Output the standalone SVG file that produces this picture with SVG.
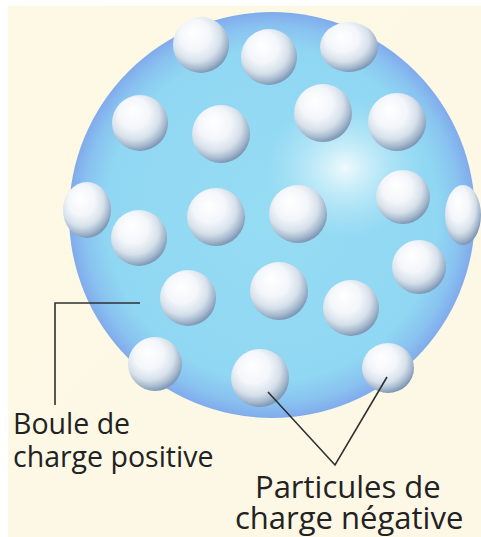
<svg xmlns="http://www.w3.org/2000/svg" width="481" height="537" viewBox="0 0 481 537">
  <style>
    .lbl { font-family: "Open Sans", "Noto Sans", "DejaVu Sans", sans-serif; font-weight: 500; fill: #222222; }
    .lead { fill: none; stroke: #2f3133; stroke-width: 1.6; stroke-linejoin: miter; }
    .e { fill: url(#ballShade); }
  </style>
  <defs>
    <!-- positive sphere: cyan body, periwinkle rim -->
    <radialGradient id="sphereBody" cx="50%" cy="50%" r="50%">
      <stop offset="0" stop-color="#96dcf3"/>
      <stop offset="0.82" stop-color="#90d7f3"/>
      <stop offset="0.93" stop-color="#89c2f0"/>
      <stop offset="1" stop-color="#81abec"/>
    </radialGradient>
    <radialGradient id="sphereGlow" cx="50%" cy="50%" r="50%">
      <stop offset="0" stop-color="#f4fcfe" stop-opacity="0.95"/>
      <stop offset="0.45" stop-color="#d8f3fb" stop-opacity="0.55"/>
      <stop offset="1" stop-color="#bfeaf8" stop-opacity="0"/>
    </radialGradient>
    <!-- electron shading: lit from the upper left -->
    <radialGradient id="ballShade" cx="42%" cy="38%" r="62%" fx="36%" fy="28%">
      <stop offset="0" stop-color="#ffffff"/>
      <stop offset="0.45" stop-color="#f3f6fa"/>
      <stop offset="0.72" stop-color="#d6e0ea"/>
      <stop offset="0.9" stop-color="#a3b7cc"/>
      <stop offset="1" stop-color="#8199b6"/>
    </radialGradient>
    <linearGradient id="paper" x1="0" y1="0" x2="1" y2="1">
      <stop offset="0" stop-color="#fdf9e4"/>
      <stop offset="1" stop-color="#fdf8e6"/>
    </linearGradient>
  </defs>

  <!-- sheet -->
  <rect width="481" height="537" fill="#ffffff"/>
  <rect x="8" y="6" width="473" height="531" fill="url(#paper)"/>

  <!-- positive charge sphere -->
  <g id="sphere">
    <circle cx="272" cy="215" r="203" fill="url(#sphereBody)"/>
    <ellipse cx="345" cy="168" rx="80" ry="70" fill="url(#sphereGlow)"/>
  </g>

  <!-- negative particles -->
  <g id="particles">
    <circle id="p1" class="e" cx="201" cy="45" r="28"/>
    <circle id="p2" class="e" cx="269" cy="57" r="28"/>
    <ellipse id="p3" class="e" cx="349" cy="47" rx="29" ry="25"/>
    <circle id="p4" class="e" cx="140" cy="123" r="28"/>
    <circle id="p5" class="e" cx="221" cy="134" r="29"/>
    <circle id="p6" class="e" cx="323" cy="113" r="29"/>
    <circle id="p7" class="e" cx="397" cy="122" r="29"/>
    <ellipse id="p8" class="e" cx="87" cy="210" rx="24" ry="28"/>
    <circle id="p9" class="e" cx="139" cy="238" r="28"/>
    <circle id="p10" class="e" cx="216" cy="217" r="29"/>
    <circle id="p11" class="e" cx="298" cy="214" r="29"/>
    <circle id="p12" class="e" cx="403" cy="197" r="27"/>
    <ellipse id="p13" class="e" cx="463" cy="215" rx="18" ry="30"/>
    <circle id="p14" class="e" cx="419" cy="267" r="27"/>
    <circle id="p15" class="e" cx="188" cy="298" r="28"/>
    <circle id="p16" class="e" cx="279" cy="291" r="29"/>
    <circle id="p17" class="e" cx="351" cy="308" r="28"/>
    <circle id="p18" class="e" cx="155" cy="364" r="27"/>
    <circle id="p19" class="e" cx="260" cy="378" r="29"/>
    <ellipse id="p20" class="e" cx="388" cy="368" rx="26" ry="25"/>
  </g>

  <!-- leader lines -->
  <g id="connectors">
    <polyline class="lead" points="140,303 55,303 55,405"/>
    <polyline class="lead" points="268,392 335,465 387,377"/>
  </g>

  <!-- labels -->
  <g id="label-boule">
    <text class="lbl" font-size="28.5" x="13" y="434">Boule de<tspan x="13" dy="33">charge positive</tspan></text>
  </g>
  <g id="label-particules">
    <text class="lbl" font-size="31" x="255" y="498">Particules de<tspan x="235" dy="31">charge négative</tspan></text>
  </g>
</svg>
